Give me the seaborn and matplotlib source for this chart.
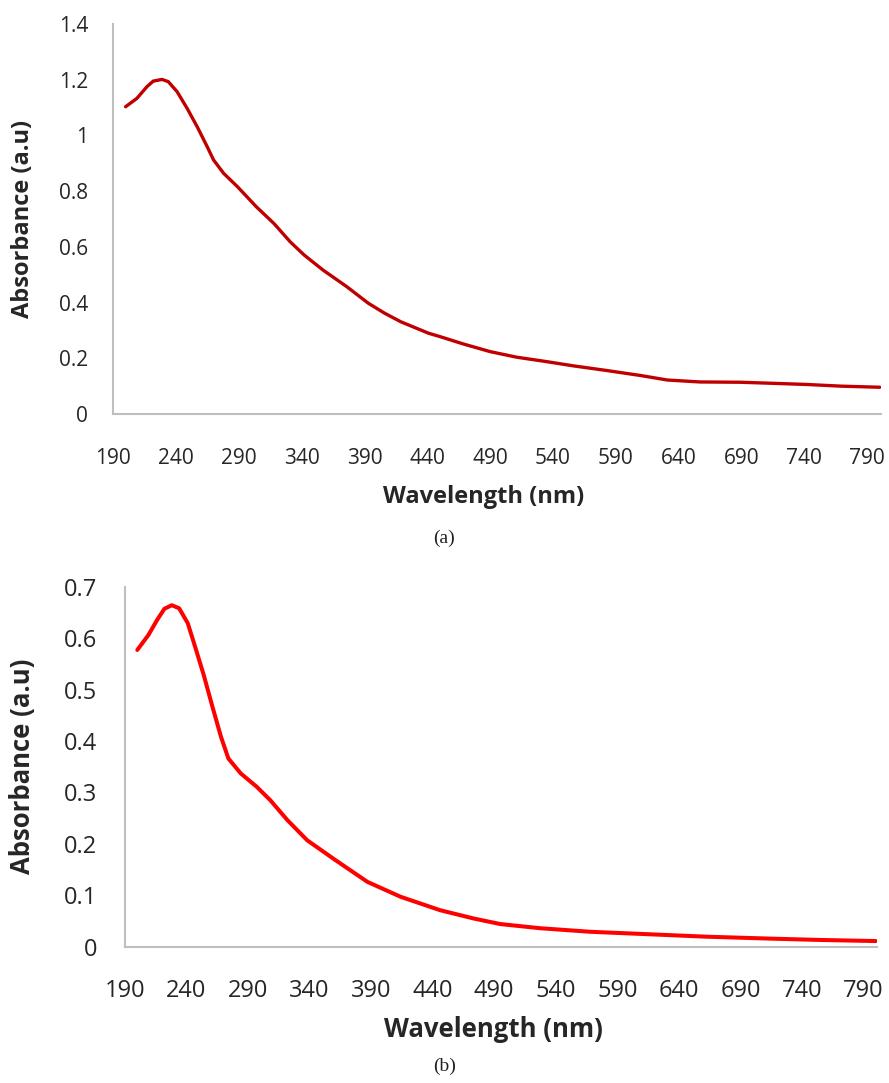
import matplotlib
matplotlib.use("Agg")
import matplotlib.pyplot as plt
import seaborn as sns
import pandas as pd

# Data
wl_a = [200, 209, 217, 222, 229, 234, 241, 249, 257, 265, 270, 278, 289, 304, 318, 331, 342, 357, 376,
        393, 406, 419, 441, 450, 469, 490, 511, 535, 556, 583, 610, 631, 657, 689, 716, 742, 769, 800]
abs_a = [1.103, 1.133, 1.175, 1.195, 1.201, 1.193, 1.157, 1.097, 1.031, 0.959, 0.912, 0.864, 0.816, 0.744,
         0.684, 0.618, 0.571, 0.517, 0.457, 0.398, 0.362, 0.331, 0.290, 0.278, 0.251, 0.224, 0.204, 0.188,
         0.173, 0.156, 0.138, 0.122, 0.115, 0.114, 0.110, 0.106, 0.100, 0.096]

wl_b = [200, 209, 216, 222, 228, 234, 241, 247, 254, 261, 268, 274, 284, 297, 308, 322, 338, 360, 387,
        414, 446, 473, 495, 527, 568, 608, 662, 716, 757, 800]
abs_b = [0.577, 0.606, 0.635, 0.657, 0.664, 0.658, 0.629, 0.583, 0.528, 0.467, 0.408, 0.366, 0.337, 0.311,
         0.285, 0.246, 0.207, 0.170, 0.126, 0.097, 0.071, 0.055, 0.044, 0.036, 0.029, 0.025, 0.0195, 0.0156,
         0.013, 0.011]

xticks = list(range(190, 791, 50))
yticks_a = [0, 0.2, 0.4, 0.6, 0.8, 1, 1.2, 1.4]
ytick_labels_a = ["0", "0.2", "0.4", "0.6", "0.8", "1", "1.2", "1.4"]
yticks_b = [0, 0.1, 0.2, 0.3, 0.4, 0.5, 0.6, 0.7]
ytick_labels_b = ["0", "0.1", "0.2", "0.3", "0.4", "0.5", "0.6", "0.7"]

sns.set_style("white")
plt.rcParams['font.family'] = ['Open Sans', 'DejaVu Sans']

W, H = 889, 1083
fig = plt.figure(figsize=(W / 100, H / 100), dpi=100)

def fr(x0, y0, x1, y1):
    return [x0 / W, 1 - y1 / H, (x1 - x0) / W, (y1 - y0) / H]

ax_a = fig.add_axes(fr(113, 24, 881, 414))
ax_b = fig.add_axes(fr(125, 586.7, 877, 946.7))

df_a = pd.DataFrame({"wl": wl_a, "abs": abs_a})
df_b = pd.DataFrame({"wl": wl_b, "abs": abs_b})
sns.lineplot(data=df_a, x="wl", y="abs", ax=ax_a, color="#C00000", linewidth=2.4, sort=True)
sns.lineplot(data=df_b, x="wl", y="abs", ax=ax_b, color="#FF0000", linewidth=2.9, sort=True)
for ax in (ax_a, ax_b):
    for ln in ax.get_lines():
        ln.set_solid_joinstyle("round")
        ln.set_solid_capstyle("round")

def style(ax, yticks, ylabels, ymax, fs, lfs, xlab_y, xlab_x, ylab_x, pad):
    ax.set_xlim(190, 801)
    ax.set_ylim(0, ymax)
    ax.set_xticks(xticks)
    ax.set_xticklabels([str(t) for t in xticks])
    ax.set_yticks(yticks)
    ax.set_yticklabels(ylabels)
    ax.tick_params(axis="both", length=0, labelsize=fs, colors="#262626", pad=pad)
    for s in ["top", "right"]:
        ax.spines[s].set_visible(False)
    for s in ["left", "bottom"]:
        ax.spines[s].set_color("#BFBFBF")
        ax.spines[s].set_linewidth(1.5)
    ax.set_xlabel("Wavelength (nm)", fontsize=lfs, fontweight="bold", color="#262626")
    ax.set_ylabel("Absorbance (a.u)", fontsize=lfs, fontweight="bold", color="#262626")
    ax.xaxis.set_label_coords(xlab_x, xlab_y)
    ax.yaxis.set_label_coords(ylab_x, 0.5)
    ax.xaxis.label.set_va("center")
    ax.yaxis.label.set_va("center")
    ax.grid(False)

style(ax_a, yticks_a, ytick_labels_a, 1.4, 15, 17, -0.213, 0.483, -0.117, 18)
style(ax_b, yticks_b, ytick_labels_b, 0.7, 17, 18.5, -0.231, 0.49, -0.136, 20)
ax_a.tick_params(axis="x", pad=24.5)
ax_b.tick_params(axis="x", pad=23)

fig.text(444 / W, 1 - 538 / H, "(a)", ha="center", va="center", fontsize=14,
         family=["Liberation Serif", "DejaVu Serif"], color="#231F20")
fig.text(445 / W, 1 - 1066 / H, "(b)", ha="center", va="center", fontsize=14,
         family=["Liberation Serif", "DejaVu Serif"], color="#231F20")

fig.savefig("out.png", dpi=100, facecolor="white")
